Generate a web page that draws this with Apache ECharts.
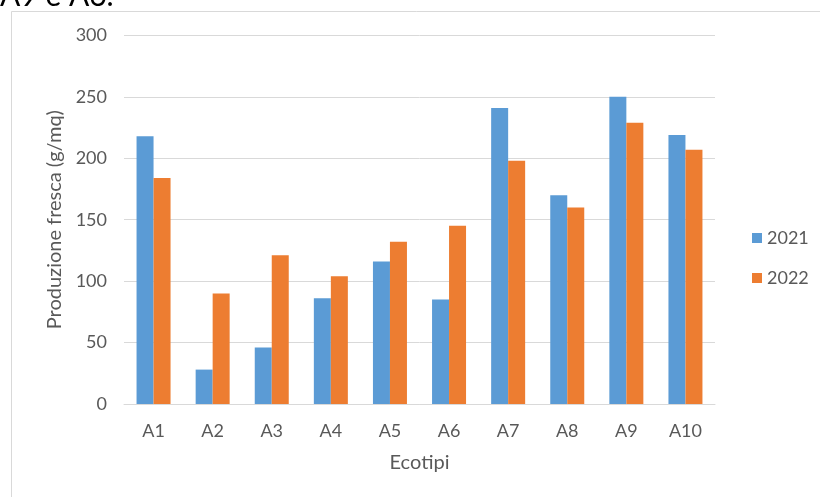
<!DOCTYPE html>
<html>
<head>
<meta charset="utf-8">
<script src="https://cdn.jsdelivr.net/npm/echarts@6/dist/echarts.min.js"></script>
<style>html,body{margin:0;padding:0;background:#fff;}#c{width:820px;height:497px;}</style>
</head>
<body>
<div id="c"></div>
<script>
var categories = ['A1','A2','A3','A4','A5','A6','A7','A8','A9','A10'];
var seriesNames = ['2021','2022'];
var values2021 = [218, 28, 46, 86, 116, 85, 241, 170, 250, 219];
var values2022 = [184, 90, 121, 104, 132, 145, 198, 160, 229, 207];
var yTicks = {min: 0, max: 300, interval: 50};

var FONT = 'Lato';
var TXT = '#595959';
var chart = echarts.init(document.getElementById('c'), null, {renderer: 'canvas'});
chart.setOption({
  animation: false,
  backgroundColor: '#ffffff',
  textStyle: {fontFamily: FONT},
  graphic: [
    {type: 'rect', shape: {x: 11.5, y: 11.5, width: 900, height: 600}, style: {fill: 'none', stroke: '#d9d9d9', lineWidth: 1}, silent: true},
    {type: 'text', left: 0, top: -19, style: {text: 'A9 e A6.', fontSize: 30, fill: '#000', fontFamily: FONT}, silent: true}
  ],
  grid: {left: 124, right: 105, top: 35.4, bottom: 93},
  legend: {
    orient: 'vertical', left: 747, top: 224, itemWidth: 10, itemHeight: 10, itemGap: 22,
    icon: 'rect',
    textStyle: {color: TXT, fontSize: 18, fontFamily: FONT},
    data: seriesNames
  },
  xAxis: {
    type: 'category', data: categories,
    name: 'Ecotipi', nameLocation: 'middle', nameGap: 49,
    nameTextStyle: {color: TXT, fontSize: 20, fontFamily: FONT},
    axisLine: {lineStyle: {color: '#d9d9d9', width: 1}},
    axisTick: {show: false},
    axisLabel: {color: TXT, fontSize: 18, margin: 18, fontFamily: FONT}
  },
  yAxis: {
    type: 'value', min: yTicks.min, max: yTicks.max, interval: yTicks.interval,
    name: 'Produzione fresca (g/mq)', nameLocation: 'middle', nameGap: 59,
    nameTextStyle: {color: TXT, fontSize: 20, fontFamily: FONT},
    axisLine: {show: false}, axisTick: {show: false},
    axisLabel: {color: TXT, fontSize: 18, margin: 17, fontFamily: FONT},
    splitLine: {lineStyle: {color: '#d9d9d9', width: 1}}
  },
  series: [
    {name: seriesNames[0], type: 'bar', data: values2021, barWidth: 17, barGap: '0%', itemStyle: {color: '#5B9BD5'}},
    {name: seriesNames[1], type: 'bar', data: values2022, barWidth: 17, barGap: '0%', itemStyle: {color: '#ED7D31'}}
  ]
});
</script>
</body>
</html>
